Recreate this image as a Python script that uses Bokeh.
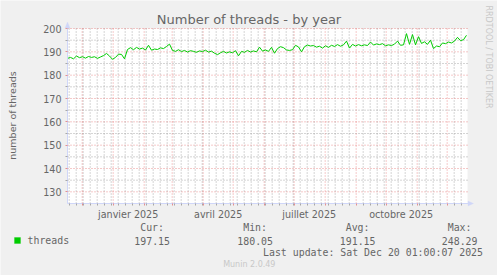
import math
import pandas as pd
from bokeh.plotting import figure
from bokeh.models import (Range1d, FixedTicker, LinearAxis, Label, BoxAnnotation,
                          PolyAnnotation)
from bokeh.embed import file_html
from bokeh.resources import INLINE

# ---------------- data ----------------
TITLE = "Number of threads - by year"
Y_LABEL = "number of threads"
SERIES_NAME = "threads"
WINDOW_START = "2024-11-16 08:00"
WINDOW_DAYS = 400
SAMPLE_STEP_DAYS = 3

threads = [
    187.2, 187.6, 187.0, 188.2, 187.5, 187.9, 187.3, 188.0, 187.6, 187.9,
    187.2, 187.8, 188.4, 189.3, 188.2, 186.8, 187.6, 189.0, 188.9, 187.0,
    191.0, 191.8, 190.9, 191.9, 191.2, 191.6, 190.8, 192.8, 190.7, 191.2,
    191.0, 191.7, 191.4, 192.3, 193.3, 190.6, 190.2, 190.9, 190.1, 190.6,
    189.9, 190.5, 190.2, 189.8, 190.4, 190.1, 190.7, 189.9, 190.3, 189.4,
    188.8, 189.6, 190.2, 189.5, 190.0, 189.6, 190.5, 188.3, 190.2, 189.8,
    190.6, 189.9, 190.4, 190.0, 192.0, 190.3, 190.8, 190.2, 191.9, 189.4,
    191.4, 192.2, 191.8, 190.8, 190.6, 190.9, 192.8, 192.1, 190.0, 192.2,
    192.9, 192.5, 192.7, 192.0, 192.4, 191.6, 192.6, 191.9, 192.8, 192.3,
    193.1, 192.4, 193.0, 194.6, 191.6, 193.2, 192.5, 193.1, 192.6, 193.0,
    192.7, 194.2, 192.9, 193.4, 193.1, 193.5, 192.6, 193.0, 192.7, 193.3,
    194.6, 192.8, 193.0, 197.8, 193.2, 197.4, 193.0, 196.5, 193.6, 194.3,
    193.2, 195.0, 191.4, 192.5, 192.2, 193.8, 193.5, 194.2, 193.8, 194.6,
    196.2, 194.8, 195.2, 197.1,
]

y_major_ticks = [130, 140, 150, 160, 170, 180, 190, 200]
y_minor_ticks = [135, 145, 155, 165, 175, 185, 195]
y_min, y_max = 125, 200

month_lines = ["2024-12-01", "2025-01-01", "2025-02-01", "2025-03-01", "2025-04-01",
               "2025-05-01", "2025-06-01", "2025-07-01", "2025-08-01", "2025-09-01",
               "2025-10-01", "2025-11-01", "2025-12-01"]
week_first = "2024-11-18"
week_count = 57
x_label_dates = ["2025-01-16", "2025-04-16", "2025-07-16", "2025-10-16"]
x_label_texts = ["janvier 2025", "avril 2025", "juillet 2025", "octobre 2025"]

stat_names = ["Cur:", "Min:", "Avg:", "Max:"]
stat_values = ["197.15", "180.05", "191.15", "248.29"]
last_update = "Last update: Sat Dec 20 01:00:07 2025"
footer = "Munin 2.0.49"
side_text = "RRDTOOL / TOBI OETIKER"

# ---------------- layout (canvas pixels) ----------------
W, H = 497, 275
PLOT_L, PLOT_T, PLOT_W, PLOT_H = 67, 28, 400, 175   # plot area inside the canvas


def ms(ts):
    return pd.Timestamp(ts).value / 1e6


t0 = pd.Timestamp(WINDOW_START)
xs = [ms(t0 + pd.Timedelta(days=SAMPLE_STEP_DAYS * i)) for i in range(len(threads))]
x_start = ms(t0)
x_end = ms(t0 + pd.Timedelta(days=WINDOW_DAYS))
month_ms = [ms(d) for d in month_lines]
week_ms = [ms(pd.Timestamp(week_first) + pd.Timedelta(days=7 * i)) for i in range(week_count)]
week_ms = [w for w in week_ms if x_start < w < x_end and w not in month_ms]
label_ms = [ms(d) for d in x_label_dates]

# the frame spans the whole canvas; ranges are extended so the plot area lands
# at PLOT_L..PLOT_L+PLOT_W, PLOT_T..PLOT_T+PLOT_H
ms_per_px = (x_end - x_start) / PLOT_W
val_per_px = (y_max - y_min) / PLOT_H
xr = Range1d(x_start - PLOT_L * ms_per_px, x_end + (W - PLOT_L - PLOT_W) * ms_per_px)
yr = Range1d(y_min - (H - PLOT_T - PLOT_H) * val_per_px, y_max + PLOT_T * val_per_px)

FONT = "DejaVu Sans"
MONO = "DejaVu Sans Mono"
TXT = "#666666"
AXIS = "#CFD6F8"
MGRID = "rgba(222,79,79,0.6)"
GRID = "rgba(143,143,143,0.75)"
GREEN = "#00CC00"

p = figure(width=W, height=H, output_backend="svg", toolbar_location=None,
           x_axis_type=None, y_axis_type=None, x_range=xr, y_range=yr,
           min_border=0)
p.background_fill_color = "#F0F0F0"
p.border_fill_color = "#F0F0F0"
p.outline_line_color = None
p.xgrid.visible = False
p.ygrid.visible = False

# white plot area
p.add_layout(BoxAnnotation(left=x_start, right=x_end, bottom=y_min, top=y_max,
                           fill_color="#FFFFFF", fill_alpha=1, line_color=None,
                           level="underlay"))

# grid lines, limited to the plot area
p.segment(x0=week_ms, y0=[y_min] * len(week_ms), x1=week_ms, y1=[y_max] * len(week_ms),
          line_color=GRID, line_width=1, line_dash="1 2")
p.segment(x0=[x_start] * len(y_minor_ticks), y0=y_minor_ticks,
          x1=[x_end] * len(y_minor_ticks), y1=y_minor_ticks,
          line_color=GRID, line_width=1, line_dash="1 2")
p.segment(x0=month_ms, y0=[y_min] * len(month_ms), x1=month_ms, y1=[y_max] * len(month_ms),
          line_color=MGRID, line_width=1, line_dash="1 2")
p.segment(x0=[x_start] * len(y_major_ticks), y0=y_major_ticks,
          x1=[x_end] * len(y_major_ticks), y1=y_major_ticks,
          line_color=MGRID, line_width=1, line_dash="1 2")

# y axis (drawn inside the frame at the plot area's left edge)
yax = LinearAxis(ticker=FixedTicker(ticks=y_major_ticks, minor_ticks=y_minor_ticks),
                 fixed_location=x_start, bounds=(y_min, y_max + 1.5 * val_per_px))
yax.axis_line_color = AXIS
yax.major_tick_line_color = MGRID
yax.minor_tick_line_color = GRID
yax.major_tick_out = 2
yax.major_tick_in = 0
yax.minor_tick_out = 2
yax.minor_tick_in = 0
yax.major_label_standoff = 4
yax.major_label_text_font = FONT
yax.major_label_text_font_size = "9.6px"
yax.major_label_text_color = TXT
yax.axis_label = Y_LABEL
yax.axis_label_text_font = FONT
yax.axis_label_text_font_size = "9.5px"
yax.axis_label_text_font_style = "normal"
yax.axis_label_text_color = TXT
yax.axis_label_standoff = 22
p.add_layout(yax, "left")

# x axis: line + ticks
xax = LinearAxis(ticker=FixedTicker(ticks=month_ms, minor_ticks=week_ms),
                 fixed_location=y_min, bounds=(x_start, x_end + 1.5 * ms_per_px))
xax.axis_line_color = AXIS
xax.major_tick_line_color = MGRID
xax.minor_tick_line_color = GRID
xax.major_tick_out = 2
xax.major_tick_in = 0
xax.minor_tick_out = 2
xax.minor_tick_in = 0
xax.major_label_text_font_size = "0px"
xax.major_label_overrides = {m: "" for m in month_ms}
p.add_layout(xax, "below")

# x axis: month labels at mid-month
xlab = LinearAxis(ticker=FixedTicker(ticks=label_ms, minor_ticks=[]),
                  fixed_location=y_min)
xlab.axis_line_color = None
xlab.major_tick_line_color = None
xlab.minor_tick_line_color = None
xlab.major_tick_out = 0
xlab.major_tick_in = 0
xlab.minor_tick_out = 0
xlab.minor_tick_in = 0
xlab.major_label_standoff = 5
xlab.major_label_text_font = FONT
xlab.major_label_text_font_size = "9.6px"
xlab.major_label_text_color = TXT
xlab.major_label_overrides = {m: t for m, t in zip(label_ms, x_label_texts)}
p.add_layout(xlab, "below")

# series
p.line(xs, threads, line_color=GREEN, line_width=1)


def lab(text, x, y, font=FONT, size="9.9px", color=TXT, align="left", angle=0):
    p.add_layout(Label(x=x, y=H - y, x_units="screen", y_units="screen", text=text,
                       text_font=font, text_font_size=size, text_color=color,
                       text_align=align, text_baseline="middle", angle=angle))


lab(TITLE, 248.5, 18.5, size="13px", align="center")
lab(side_text, 487.5, 5, size="8px", color="#C8C8C8", angle=-math.pi / 2)
lab(SERIES_NAME, 27, 240, font=MONO)
value_right = [169.5, 272.5, 375, 477]
for n, v, r in zip(stat_names, stat_values, value_right):
    lab(n, r - 6, 227, font=MONO, align="right")
    lab(v, r, 240, font=MONO, align="right")
lab(last_update, 482.5, 252, font=MONO, align="right")
lab(footer, 248.8, 264, size="8px", color="#C8C8C8", align="center")

# legend swatch
p.add_layout(BoxAnnotation(left=14, right=20, top=H - 237, bottom=H - 243,
                           left_units="screen", right_units="screen",
                           top_units="screen", bottom_units="screen",
                           fill_color=GREEN, fill_alpha=1, line_color=GREEN))
# axis arrows
p.add_layout(PolyAnnotation(xs=[64.5, 69.5, 67], ys=[H - 27.5, H - 27.5, H - 21.5],
                            xs_units="screen", ys_units="screen", fill_color=AXIS,
                            fill_alpha=1, line_color=AXIS))
p.add_layout(PolyAnnotation(xs=[467.5, 467.5, 473], ys=[H - 200.5, H - 205.5, H - 203],
                            xs_units="screen", ys_units="screen", fill_color=AXIS,
                            fill_alpha=1, line_color=AXIS))

open("out.html", "w").write(file_html(p, INLINE))
